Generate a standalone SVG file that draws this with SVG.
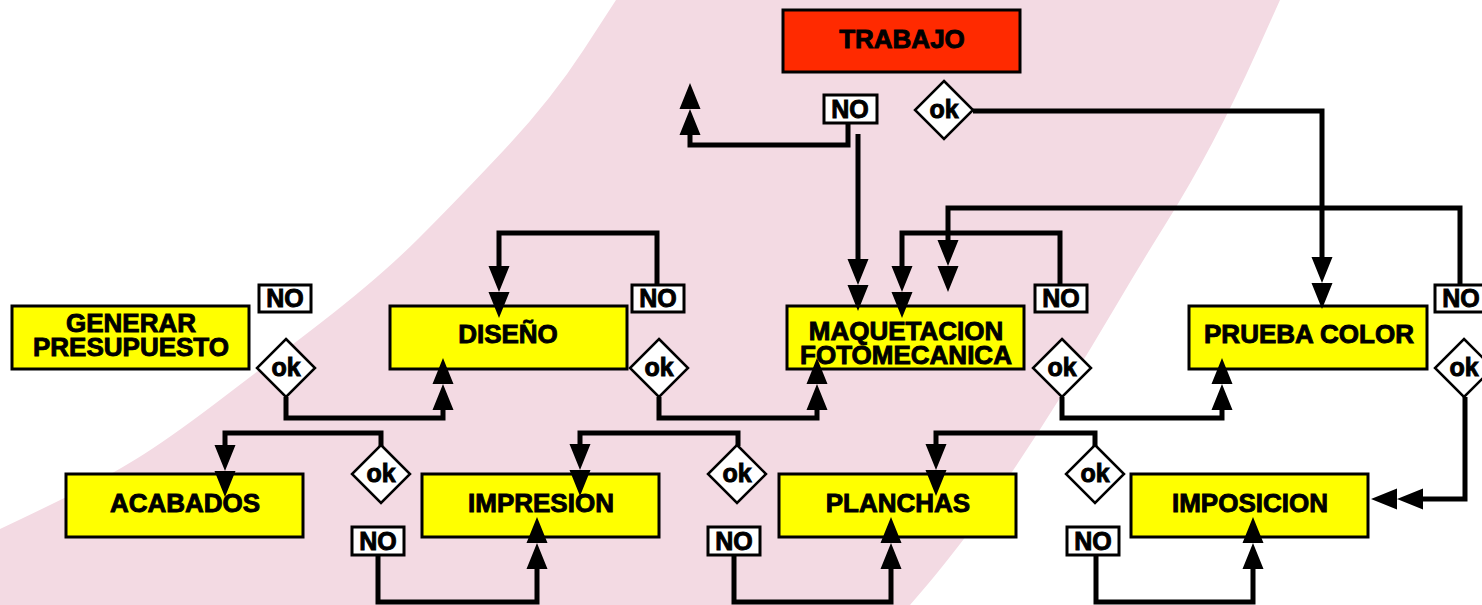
<svg xmlns="http://www.w3.org/2000/svg" width="1482" height="605" viewBox="0 0 1482 605">
<style>
.box{stroke:#000;stroke-width:3}
.proc{fill:#ffff00}
.start{fill:#ff2a00}
.lbl{fill:#fff;stroke:#000;stroke-width:3}
.dia{fill:#fff;stroke:#000;stroke-width:2.5}
text{font-family:"Liberation Sans",Arial,Helvetica,sans-serif;font-weight:bold;font-size:25px;fill:#000;stroke:#000;stroke-width:0.9;text-anchor:middle}
text.big{font-size:26px}
.conn path{fill:none;stroke:#000;stroke-width:5;stroke-linejoin:miter;marker-end:url(#dbl)}
</style>
<defs>
<marker id="dbl" markerUnits="userSpaceOnUse" orient="auto" markerWidth="52" markerHeight="22" viewBox="0 -11 52 22" refX="0" refY="0">
<path d="M0,-10.5 L26,0 L0,10.5 Z M26,-10.5 L52,0 L26,10.5 Z" fill="#000"/>
</marker>
</defs>
<rect x="0" y="0" width="1482" height="605" fill="#fff"/>
<path id="band" d="M616,0 L583.5,50 Q551,100 504,150 Q457,200 418.5,238.5 Q380,277 320.5,323 Q261,369 214,404.5 Q167,440 137,458.5 Q107,477 73.5,493.5 Q40,510 20,519.5 L0,529 L0,605 L910,605 L925,587.5 Q940,570 965,537.5 Q990,505 1015,467.5 Q1040,430 1065,390 Q1090,350 1115,307.5 Q1140,265 1165,225 Q1190,185 1212.5,142.5 Q1235,100 1257.5,50 L1280,0 Z" fill="#f3dae3"/>

<g id="trabajo"><rect class="box start" x="783" y="10" width="237" height="62"/><text class="big" x="902" y="48">TRABAJO</text></g>
<g id="generar"><rect class="box proc" x="12" y="306" width="237" height="63"/><text class="big" x="131" y="332">GENERAR</text><text class="big" x="131" y="356">PRESUPUESTO</text></g>
<g id="diseno"><rect class="box proc" x="390" y="306" width="237" height="63"/><text class="big" x="508" y="343">DISEÑO</text></g>
<g id="maquetacion"><rect class="box proc" x="787" y="306" width="237" height="63"/><text class="big" x="906" y="340">MAQUETACION</text><text class="big" x="906" y="364">FOTOMECANICA</text></g>
<g id="prueba"><rect class="box proc" x="1189" y="306" width="238" height="63"/><text class="big" x="1309" y="343">PRUEBA COLOR</text></g>
<g id="acabados"><rect class="box proc" x="66" y="474" width="237" height="63"/><text class="big" x="185" y="512">ACABADOS</text></g>
<g id="impresion"><rect class="box proc" x="422" y="474" width="237" height="63"/><text class="big" x="541" y="512">IMPRESION</text></g>
<g id="planchas"><rect class="box proc" x="779" y="474" width="237" height="63"/><text class="big" x="898" y="512">PLANCHAS</text></g>
<g id="imposicion"><rect class="box proc" x="1131" y="474" width="237" height="63"/><text class="big" x="1250" y="512">IMPOSICION</text></g>

<g id="no-trabajo"><rect class="lbl" x="824" y="95" width="53" height="28"/><text x="850" y="118">NO</text></g>
<g id="ok-trabajo"><path class="dia" d="M944,81 L973,110 L944,139 L915,110 Z"/><text x="944" y="118">ok</text></g>
<g id="no-generar"><rect class="lbl" x="259" y="285" width="52" height="27"/><text x="285" y="307">NO</text></g>
<g id="ok-generar"><path class="dia" d="M286,339 L315,368 L286,397 L257,368 Z"/><text x="286" y="376">ok</text></g>
<g id="no-diseno"><rect class="lbl" x="632" y="285" width="52" height="27"/><text x="658" y="307">NO</text></g>
<g id="ok-diseno"><path class="dia" d="M659,339 L688,368 L659,397 L630,368 Z"/><text x="659" y="376">ok</text></g>
<g id="no-maquetacion"><rect class="lbl" x="1035" y="285" width="52" height="27"/><text x="1061" y="307">NO</text></g>
<g id="ok-maquetacion"><path class="dia" d="M1062,339 L1091,368 L1062,397 L1033,368 Z"/><text x="1062" y="376">ok</text></g>
<g id="no-prueba"><rect class="lbl" x="1435" y="285" width="52" height="27"/><text x="1461" y="307">NO</text></g>
<g id="ok-prueba"><path class="dia" d="M1464,339 L1493,368 L1464,397 L1435,368 Z"/><text x="1464" y="376">ok</text></g>
<g id="ok-impresion"><path class="dia" d="M381,445 L410,474 L381,503 L352,474 Z"/><text x="381" y="482">ok</text></g>
<g id="no-impresion"><rect class="lbl" x="352" y="527" width="52" height="28"/><text x="378" y="550">NO</text></g>
<g id="ok-planchas"><path class="dia" d="M737,445 L766,474 L737,503 L708,474 Z"/><text x="737" y="482">ok</text></g>
<g id="no-planchas"><rect class="lbl" x="708" y="527" width="52" height="28"/><text x="734" y="550">NO</text></g>
<g id="ok-imposicion"><path class="dia" d="M1095,445 L1124,474 L1095,503 L1066,474 Z"/><text x="1095" y="482">ok</text></g>
<g id="no-imposicion"><rect class="lbl" x="1067" y="527" width="52" height="28"/><text x="1093" y="550">NO</text></g>

<g id="connectors" class="conn">
<path d="M848,123 V145 H690 V135"/>
<path d="M858,134 V259"/>
<path d="M973,111 H1322 V257"/>
<path d="M1060,285 V233 H902 V266"/>
<path d="M1460,285 V208 H948 V240"/>
<path d="M657,285 V233 H499 V266"/>
<path d="M286,397 V418 H443 V410"/>
<path d="M659,397 V418 H817 V410"/>
<path d="M1062,397 V418 H1222 V410"/>
<path d="M1465,397 V499 H1423"/>
<path d="M381,446 V433 H225 V445"/>
<path d="M738,446 V433 H580 V444"/>
<path d="M1095,446 V433 H936 V444"/>
<path d="M378,555 V602 H537 V569"/>
<path d="M734,555 V602 H891 V569"/>
<path d="M1096,555 V602 H1253 V569"/>
</g>
</svg>
